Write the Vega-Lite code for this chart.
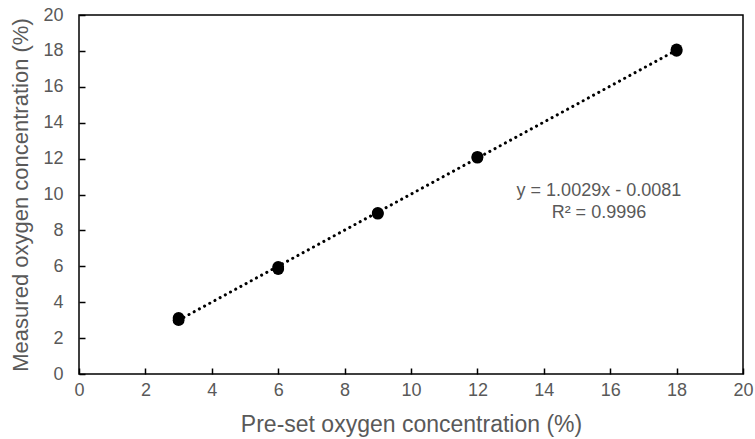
{
  "$schema": "https://vega.github.io/schema/vega-lite/v6.json",
  "autosize": {"type": "none"},
  "width": 664,
  "height": 359,
  "padding": {"left": 79, "top": 15, "right": 12, "bottom": 65},
  "config": {
    "font": "Liberation Sans",
    "view": {"stroke": "black", "strokeWidth": 1.5},
    "axis": {
      "grid": false,
      "domain": false,
      "offset": -6,
      "tickColor": "black",
      "tickWidth": 1.5,
      "tickSize": 6,
      "labelColor": "#595959",
      "labelFontSize": 18,
      "labelOverlap": false,
      "labelBound": false,
      "labelFlush": false,
      "titleColor": "#595959",
      "titleFontWeight": "normal"
    }
  },
  "datasets": {
    "pts": [
      {"preset": 3, "measured": 3.0},
      {"preset": 3, "measured": 3.12},
      {"preset": 6, "measured": 5.85},
      {"preset": 6, "measured": 5.97},
      {"preset": 9, "measured": 8.93},
      {"preset": 9, "measured": 8.98},
      {"preset": 12, "measured": 12.05},
      {"preset": 12, "measured": 12.1},
      {"preset": 18, "measured": 18.0},
      {"preset": 18, "measured": 18.08}
    ],
    "trend": [
      {"preset": 3, "measured": 3.0006},
      {"preset": 18, "measured": 18.044}
    ],
    "eq": [
      {"preset": 15.66, "measured": 10.2, "label": "y = 1.0029x - 0.0081"},
      {"preset": 15.66, "measured": 8.97, "label": "R² = 0.9996"}
    ]
  },
  "encoding": {
    "x": {"field": "preset", "type": "quantitative", "scale": {"domain": [0, 20]},
          "axis": {"title": "Pre-set oxygen concentration (%)", "values": [0,2,4,6,8,10,12,14,16,18,20], "labelPadding": 7, "titlePadding": 14, "titleFontSize": 23}},
    "y": {"field": "measured", "type": "quantitative", "scale": {"domain": [0, 20]},
          "axis": {"title": "Measured oxygen concentration (%)", "values": [0,2,4,6,8,10,12,14,16,18,20], "labelPadding": 16, "titlePadding": 10, "titleFontSize": 22}}
  },
  "layer": [
    {
      "data": {"name": "trend"},
      "mark": {"type": "line", "color": "black", "strokeWidth": 3, "strokeDash": [0.1, 5.8], "strokeCap": "round"},
      "encoding": {}
    },
    {
      "data": {"name": "pts"},
      "mark": {"type": "point", "shape": "circle", "filled": true, "color": "black", "opacity": 1, "size": 140}
    },
    {
      "data": {"name": "eq"},
      "mark": {"type": "text", "color": "#595959", "fontSize": 18, "align": "center", "baseline": "middle"},
      "encoding": {
        "text": {"field": "label"}
      }
    }
  ]
}
